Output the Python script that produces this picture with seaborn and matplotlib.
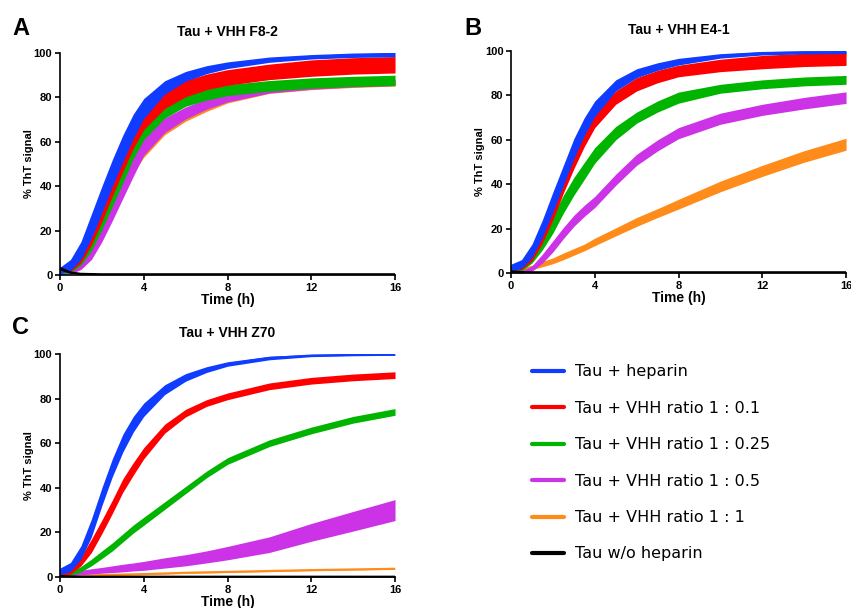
import matplotlib
matplotlib.use("Agg")
import matplotlib.pyplot as plt
import seaborn as sns
import pandas as pd

# ------------------------------------------------------------
# data (mean and half-width of error bar)
# ------------------------------------------------------------
time_h = [0, 0.5, 1, 1.5, 2, 2.5, 3, 3.5, 4, 5, 6, 7, 8, 10, 12, 14, 16]

conditions = ["Tau + heparin", "Tau + VHH ratio 1 : 0.1", "Tau + VHH ratio 1 : 0.25",
              "Tau + VHH ratio 1 : 0.5", "Tau + VHH ratio 1 : 1", "Tau w/o heparin"]
colors = ["#0f3cff", "#ff0000", "#00b400", "#cc33e6", "#ff8c1a", "#000000"]

# panel A : Tau + VHH F8-2
a_heparin = [2, 4.5, 11, 22, 34, 46, 57, 67, 75, 84.5, 89.5, 92.5, 94.5, 97, 98.3, 99, 99.3]
a_r01 = [2, 3.5, 9, 18, 29, 40.5, 51.5, 62, 70, 79, 84, 87, 89, 91.5, 93.2, 94.2, 94.7]
a_r025 = [1.5, 3, 7.5, 15, 25, 35.5, 46, 57, 65, 74, 79, 81.5, 83.3, 85.2, 86.5, 87.2, 87.7]
a_r05 = [1, 2, 5, 11, 19.5, 29, 39, 49, 58, 67.5, 73, 77, 80, 83.5, 85.2, 86.2, 86.8]
a_r1 = [1.5, 2.5, 6, 12.5, 21.5, 31.5, 41.5, 50.5, 57, 66.5, 72, 76, 79.5, 83.3, 85, 86, 86.6]
a_noh = [3, 1.2, 0.6, 0.5, 0.4, 0.4, 0.4, 0.4, 0.4, 0.4, 0.4, 0.4, 0.4, 0.4, 0.4, 0.4, 0.4]
a_heparin_err = [1.5, 2.5, 4, 5.5, 6, 6, 6, 5.5, 4.5, 3, 2.2, 1.8, 1.5, 1.2, 1, 1, 1]
a_r01_err = [1, 2, 3.5, 4.5, 5, 5, 5, 5, 4.5, 4, 3.7, 3.5, 3.5, 3.5, 3.7, 3.7, 3.7]
a_r025_err = [1, 2, 3, 4, 4.5, 4.5, 4.5, 4.5, 4, 3.3, 3, 2.7, 2.5, 2.4, 2.3, 2.3, 2.3]
a_r05_err = [0.8, 1.5, 2.5, 4, 4.5, 4.5, 4.5, 4.5, 4, 3.3, 2.7, 2.3, 2, 1.5, 1.5, 1.5, 1.5]
a_r1_err = [0.8, 1.5, 2.5, 4, 4.5, 4.5, 4.5, 4.5, 4, 3.3, 2.7, 2.3, 2, 1.5, 1.5, 1.5, 1.5]
a_noh_err = [0.8, 0.5, 0.3, 0.3, 0.3, 0.3, 0.3, 0.3, 0.3, 0.3, 0.3, 0.3, 0.3, 0.3, 0.3, 0.3, 0.3]

# panel B : Tau + VHH E4-1
b_heparin = [2.5, 4, 10, 20, 32, 44, 56, 66, 74, 84.5, 90, 93, 95.2, 97.8, 99, 99.4, 99.5]
b_r01 = [2, 3, 8, 17, 28, 40, 51, 61, 69, 79, 85, 88.5, 91, 93.5, 95, 96, 96.5]
b_r025 = [1.5, 2.5, 7, 14, 22, 31, 39, 46, 53, 63, 70, 75, 79, 83, 85, 86.3, 87]
b_r05 = [0.5, 0.3, 2, 6.5, 12, 18, 23.5, 28, 32, 42, 51, 57.5, 63, 69.5, 73.5, 76.5, 79]
b_r1 = [1, 1.5, 2.5, 4, 5.5, 7.5, 9.5, 11.5, 14, 18.5, 23, 27, 31, 39, 46, 52.5, 58]
b_noh = [0.8, 0.5, 0.4, 0.4, 0.4, 0.4, 0.4, 0.4, 0.4, 0.4, 0.4, 0.4, 0.4, 0.4, 0.4, 0.4, 0.4]
b_heparin_err = [1.5, 2, 3, 4, 4.5, 4.5, 4.5, 4, 3.5, 2.5, 2, 1.7, 1.5, 1, 0.8, 0.7, 0.7]
b_r01_err = [1, 1.5, 2.5, 3.5, 4, 4, 4, 4, 3.5, 3, 3, 2.8, 2.6, 2.8, 3, 3, 3]
b_r025_err = [1, 1.5, 2.5, 3.5, 4, 4, 4, 3.8, 3.5, 3, 2.5, 2.5, 2.5, 2, 2, 2, 2]
b_r05_err = [0.5, 0.5, 1.2, 2, 2.5, 2.5, 2.5, 2.5, 2.5, 2.5, 2.5, 2.5, 2.5, 2.5, 2.5, 2.6, 2.6]
b_r1_err = [0.8, 0.8, 1, 1.2, 1.3, 1.5, 1.5, 1.5, 1.7, 1.8, 2, 2, 2.2, 2.4, 2.5, 2.6, 2.7]
b_noh_err = [0.4, 0.3, 0.3, 0.3, 0.3, 0.3, 0.3, 0.3, 0.3, 0.3, 0.3, 0.3, 0.3, 0.3, 0.3, 0.3, 0.3]

# panel C : Tau + VHH Z70
c_heparin = [2.5, 4.5, 11, 22, 36, 49, 60, 68.5, 75, 84, 89.5, 93, 95.5, 98.2, 99.3, 99.6, 99.7]
c_r01 = [1.5, 2.5, 7, 14, 22.5, 31.5, 41, 48.5, 55.5, 66.5, 73.5, 78, 81, 85.5, 88, 89.5, 90.5]
c_r025 = [1.5, 1.5, 3.5, 6.5, 10, 13.5, 17.5, 21.5, 25, 32, 39, 46, 52, 60, 65.7, 70.5, 74]
c_r05 = [1, 1.3, 2, 2.5, 3, 3.5, 4, 4.5, 5, 6.3, 7.5, 9, 10.7, 14.5, 20, 25, 30]
c_r1 = [0.5, 0.5, 0.6, 0.7, 0.9, 1, 1.1, 1.2, 1.3, 1.6, 1.9, 2.1, 2.3, 2.7, 3.1, 3.4, 3.7]
c_noh = [0.5, 0.3, 0.2, 0.2, 0.2, 0.2, 0.2, 0.2, 0.2, 0.2, 0.2, 0.2, 0.2, 0.2, 0.2, 0.2, 0.2]
c_heparin_err = [1.5, 2, 3, 4, 4, 4, 4, 3.5, 3, 2.2, 1.7, 1.3, 1, 0.8, 0.5, 0.4, 0.3]
c_r01_err = [1, 1.2, 2, 3, 3, 3, 3, 2.8, 2.5, 2, 1.7, 1.5, 1.5, 1.5, 1.5, 1.5, 1.5]
c_r025_err = [0.8, 0.8, 1.2, 1.5, 1.7, 1.8, 1.8, 1.8, 1.8, 1.7, 1.6, 1.5, 1.5, 1.5, 1.5, 1.5, 1.5]
c_r05_err = [0.5, 0.8, 1, 1.2, 1.3, 1.5, 1.7, 1.8, 2, 2.3, 2.5, 2.7, 3, 3.5, 4, 4.4, 4.7]
c_r1_err = [0.3] * 17
c_noh_err = [0.3] * 17

panels = [
    ("A", "Tau + VHH F8-2", [a_heparin, a_r01, a_r025, a_r05, a_r1, a_noh],
     [a_heparin_err, a_r01_err, a_r025_err, a_r05_err, a_r1_err, a_noh_err]),
    ("B", "Tau + VHH E4-1", [b_heparin, b_r01, b_r025, b_r05, b_r1, b_noh],
     [b_heparin_err, b_r01_err, b_r025_err, b_r05_err, b_r1_err, b_noh_err]),
    ("C", "Tau + VHH Z70", [c_heparin, c_r01, c_r025, c_r05, c_r1, c_noh],
     [c_heparin_err, c_r01_err, c_r025_err, c_r05_err, c_r1_err, c_noh_err]),
]

# ------------------------------------------------------------
# figure
# ------------------------------------------------------------
sns.set_style("ticks")
plt.rcParams["font.family"] = ["Liberation Sans", "DejaVu Sans"]
plt.rcParams["text.color"] = "black"
plt.rcParams["axes.labelcolor"] = "black"
plt.rcParams["xtick.color"] = "black"
plt.rcParams["ytick.color"] = "black"
plt.rcParams["axes.edgecolor"] = "black"

fig = plt.figure(figsize=(8.51, 6.08), dpi=100)

# axes boxes in figure fractions (left, bottom, width, height)
boxes = [(0.0705, 0.5477, 0.3937, 0.3651),
         (0.6005, 0.5510, 0.3937, 0.3651),
         (0.0705, 0.0510, 0.3937, 0.3668)]
letter_pos = [(0.014, 0.972), (0.546, 0.972), (0.014, 0.480)]

for (letter, title, means, errs), box, lpos in zip(panels, boxes, letter_pos):
    ax = fig.add_axes(box)
    # draw from the bottom of the legend up so blue ends on top, black last
    order = [4, 3, 2, 1, 0, 5]
    for z, i in enumerate(order):
        df = pd.DataFrame({"time": time_h, "signal": means[i], "err": errs[i]})
        ax.fill_between(df["time"], df["signal"] - df["err"], df["signal"] + df["err"],
                        color=colors[i], lw=0, zorder=2 + z)
        sns.lineplot(data=df, x="time", y="signal", color=colors[i],
                     lw=1.5 if i < 5 else 1.3, ax=ax, zorder=2.5 + z)

    ax.set_xlim(0, 16)
    ax.set_ylim(0, 100)
    ax.set_xticks([0, 4, 8, 12, 16])
    ax.set_yticks([0, 20, 40, 60, 80, 100])
    sns.despine(ax=ax)
    for s in ["left", "bottom"]:
        ax.spines[s].set_linewidth(1.2)
        ax.spines[s].set_zorder(20)
    ax.tick_params(width=1.2, length=3.5, pad=2, labelsize=8)
    for lab in ax.get_xticklabels() + ax.get_yticklabels():
        lab.set_fontweight("bold")
    ax.set_xlabel("Time (h)", fontsize=10, fontweight="bold", labelpad=0)
    ax.set_ylabel("% ThT signal", fontsize=8, fontweight="bold", labelpad=0)
    ax.set_title(title, fontsize=10, fontweight="bold", pad=12)
    fig.text(lpos[0], lpos[1], letter, fontsize=17, fontweight="bold", va="top")

# legend for all three panels
handles = [plt.Line2D([], [], color=c, lw=3) for c in colors]
fig.legend(handles, conditions, loc="center left", bbox_to_anchor=(0.625, 0.2385),
           frameon=False, handlelength=2.0, handletextpad=0.7,
           labelspacing=1.34, borderpad=0, borderaxespad=0,
           prop={"family": "DejaVu Sans", "size": 11.5})

plt.savefig("out.png", dpi=100)
